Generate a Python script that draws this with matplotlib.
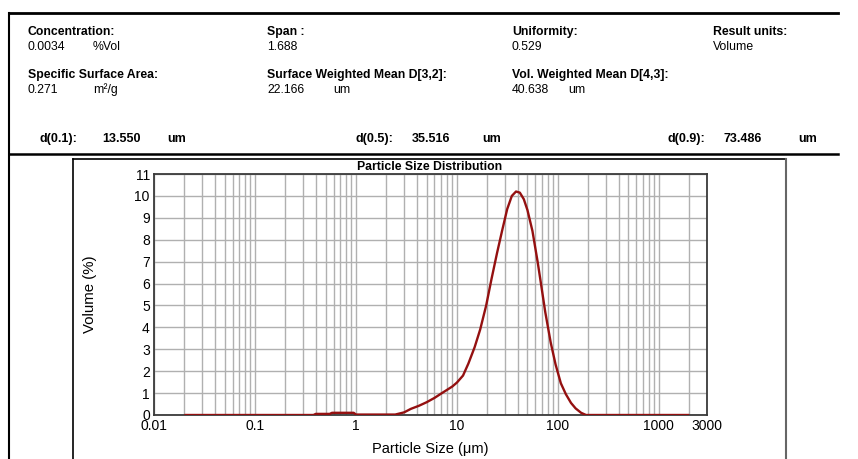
import numpy as np
import matplotlib
matplotlib.use("Agg")
from matplotlib import pyplot as plt
from matplotlib.lines import Line2D
from matplotlib.ticker import FixedLocator, NullFormatter

W, H = 858, 459

# Particle size (um) and volume (%)
sizes = [0.02, 0.1, 0.38, 0.40, 0.55, 0.58, 0.95, 1.0, 1.5, 2.45,
         3.0, 3.5, 4.2, 5.0, 6.0, 7.0, 8.0, 9.0, 10.0, 11.5,
         13.0, 15.0, 17.0, 19.5, 22.0, 25.0, 28.0, 31.5, 35.0, 38.5,
         42.0, 46.0, 50.0, 56.0, 63.0, 68.0, 75.0, 85.0, 95.0, 107.0,
         120.0, 135.0, 150.0, 170.0, 190.0, 500.0, 2000.0]
volume = [0.0, 0.0, 0.0, 0.05, 0.05, 0.1, 0.1, 0.02, 0.02, 0.02,
          0.12, 0.28, 0.42, 0.58, 0.78, 0.98, 1.15, 1.3, 1.48, 1.8,
          2.35, 3.1, 3.9, 5.0, 6.2, 7.4, 8.4, 9.4, 10.0, 10.2,
          10.15, 9.85, 9.35, 8.4, 7.0, 6.0, 4.7, 3.3, 2.3, 1.45,
          0.95, 0.55, 0.3, 0.1, 0.0, 0.0, 0.0]

x_ticks = [0.01, 0.1, 1, 10, 100, 1000, 3000]
x_tick_labels = ["0.01", "0.1", "1", "10", "100", "1000", "3000"]
y_ticks = list(range(0, 12))

header_labels = [
    (28, 32, "Concentration:"), (267, 32, "Span :"),
    (512, 32, "Uniformity:"), (713, 32, "Result units:"),
    (28, 75, "Specific Surface Area:"), (267, 75, "Surface Weighted Mean D[3,2]:"),
    (512, 75, "Vol. Weighted Mean D[4,3]:"),
]
header_values = [
    (28, 47, "0.0034"), (93, 47, "%Vol"), (267, 47, "1.688"),
    (512, 47, "0.529"), (713, 47, "Volume"),
    (28, 90, "0.271"), (93, 90, "m²/g"), (267, 90, "22.166"), (333, 90, "um"),
    (512, 90, "40.638"), (568, 90, "um"),
]
d_row = [
    (40, "d(0.1):"), (102, "13.550"), (167, "um"),
    (355, "d(0.5):"), (412, "35.516"), (482, "um"),
    (668, "d(0.9):"), (723, "73.486"), (798, "um"),
]

plt.rcParams["font.family"] = ["Liberation Sans", "DejaVu Sans"]

fig = plt.figure(figsize=(W / 100, H / 100), dpi=100)
fig.patch.set_facecolor("white")


def fx(x):
    return x / W


def fy(y):
    return 1 - y / H


def hline(x0, x1, y, **kw):
    fig.add_artist(Line2D([fx(x0), fx(x1)], [fy(y), fy(y)], transform=fig.transFigure, **kw))


def vline(x, y0, y1, **kw):
    fig.add_artist(Line2D([fx(x), fx(x)], [fy(y0), fy(y1)], transform=fig.transFigure, **kw))


# Report frame
hline(9, 838, 13, color="black", lw=2)
vline(9, 13, H, color="black", lw=1.5)
hline(9, 838, 154, color="black", lw=1.8)
hline(73, 786, 159, color="black", lw=1.2)
vline(73, 159, H, color="black", lw=1.2)
vline(786, 159, H, color="#666666", lw=1.5)

for x, y, s in header_labels:
    fig.text(fx(x), fy(y), s, fontsize=8.8, fontweight="bold", va="center", ha="left")
for x, y, s in header_values:
    fig.text(fx(x), fy(y), s, fontsize=8.8, va="center", ha="left")
for x, s in d_row:
    fig.text(fx(x), fy(139), s, fontsize=9, fontweight="bold", va="center", ha="left")

# Chart
ax = fig.add_axes([fx(154), fy(415), fx(707) - fx(154), (415 - 174) / H])
ax.set_xscale("log")
ax.set_xlim(0.01, 3000)
ax.set_ylim(0, 11)

ax.plot(sizes, volume, color="#941010", lw=1.7, solid_capstyle="butt", zorder=3)

ax.xaxis.set_major_locator(FixedLocator(x_ticks))
ax.set_xticklabels(x_tick_labels)
minor = [m * 10.0 ** e for e in range(-2, 4) for m in range(2, 10) if m * 10.0 ** e < 3000]
ax.xaxis.set_minor_locator(FixedLocator(minor))
ax.xaxis.set_minor_formatter(NullFormatter())
ax.set_yticks(y_ticks)

ax.grid(True, which="both", axis="x", color="#b0b0b0", lw=1.0)
ax.grid(True, which="major", axis="y", color="#b0b0b0", lw=1.0)
ax.tick_params(axis="both", which="both", length=0, labelsize=10, pad=3)
for sp in ax.spines.values():
    sp.set_color("#3a3a3a")
    sp.set_linewidth(1.3)

ax.set_ylabel("Volume (%)", fontsize=10.8, labelpad=27)
ax.set_xlabel("Particle Size (μm)", fontsize=10.5, labelpad=6)
fig.text(fx(430), fy(167), "Particle Size Distribution", fontsize=8.8,
         fontweight="bold", ha="center", va="center")

fig.savefig("out.png", dpi=100)
